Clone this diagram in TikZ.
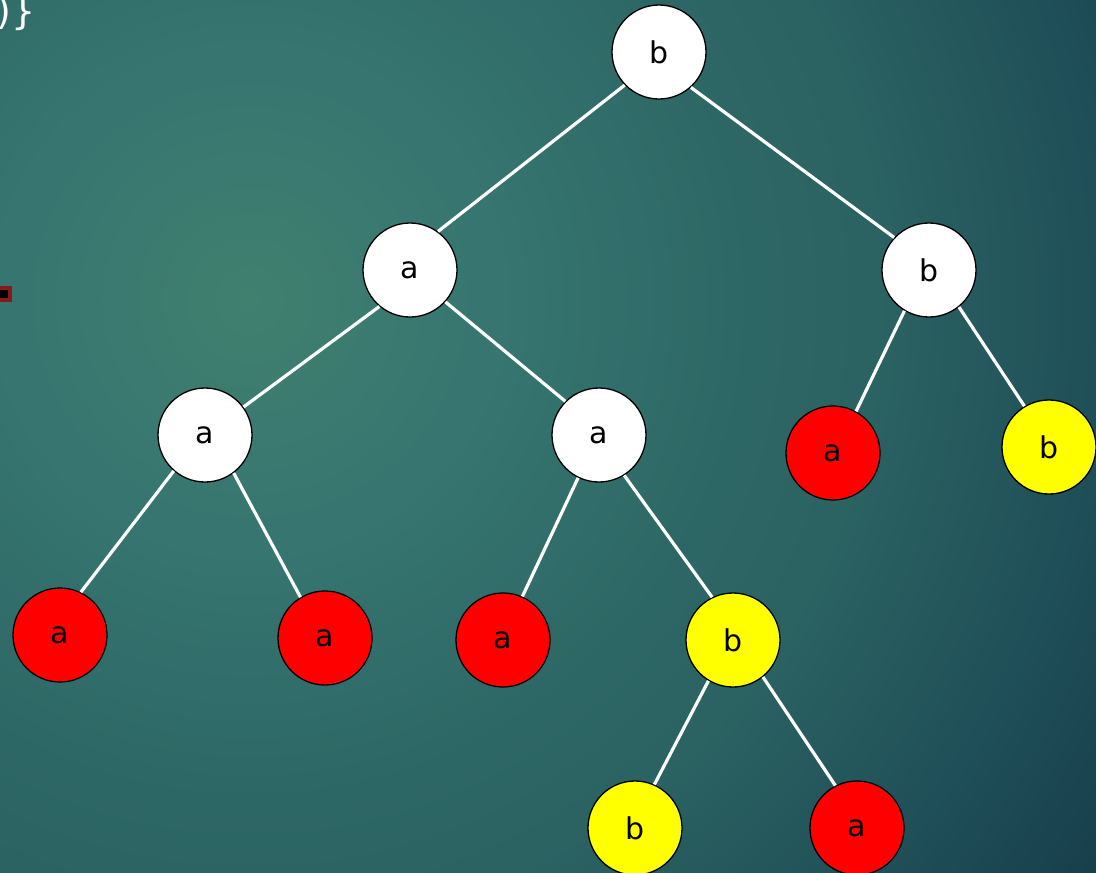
\documentclass[tikz,border=0pt]{standalone}
\usepackage{fontspec}
\setmainfont{DejaVu Sans}
\definecolor{bg0}{HTML}{40806F}
\definecolor{bg1}{HTML}{367570}
\definecolor{bg2}{HTML}{2D6765}
\definecolor{bg3}{HTML}{2B6262}
\definecolor{bg4}{HTML}{1F4F58}
\definecolor{bg5}{HTML}{173E4B}
\definecolor{nred}{HTML}{FF0000}
\definecolor{nyel}{HTML}{FFFF00}
\definecolor{sqred}{HTML}{8A1A1A}
\pgfdeclareradialshading{bgshade}{\pgfpoint{0bp}{0bp}}{color(0bp)=(bg0); color(5.7bp)=(bg1); color(11.4bp)=(bg2); color(14.3bp)=(bg3); color(19.3bp)=(bg4); color(23.4bp)=(bg5); color(50bp)=(bg5)}
\begin{document}
\begin{tikzpicture}[x=1pt,y=-1pt,
  tn/.style={circle,draw=black,line width=1.3pt,minimum size=94pt,inner sep=0pt,
     font=\fontsize{30}{36}\selectfont,text=black},
  wn/.style={tn,fill=white},
  rn/.style={tn,fill=nred},
  yn/.style={tn,fill=nyel},
  edge/.style={draw=white,line width=3.2pt}]
\useasboundingbox (0,0) rectangle (1096,873);
\begin{scope}
\clip (0,0) rectangle (1096,873);
\fill[bg5] (0,0) rectangle (1096,873);
\shade[shading=bgshade] (250,300) circle (1100);
\node[anchor=base east,text=white,font=\fontsize{38}{44}\selectfont,inner sep=0pt] (brace) at (36,24) {)\}};
\fill[sqred] (-4,286) rectangle (12,302);
\fill[black] (-4,290) rectangle (8,298);
\end{scope}
% nodes
\node[wn] (r) at (659,52) {b};
\node[wn] (a1) at (410,270) {a};
\node[wn] (b1) at (929,270) {b};
\node[wn] (a2) at (205,435) {a};
\node[wn] (a3) at (599,435) {a};
\node[rn] (ra1) at (833,453) {a};
\node[yn] (yb1) at (1049,447) {b};
\node[rn] (ra2) at (60,635) {a};
\node[rn] (ra3) at (325,638) {a};
\node[rn] (ra4) at (503,640) {a};
\node[yn] (yb2) at (733,640) {b};
\node[yn] (yb3) at (635,828) {b};
\node[rn] (ra5) at (857,828) {a};
% edges
\path[edge] (r.-136) -- (a1.54);
\path[edge] (r.-48) -- (b1.137);
\path[edge] (a1.-130) -- (a2.36);
\path[edge] (a1.-42) -- (a3.135);
\path[edge] (b1.-121) -- (ra1.61);
\path[edge] (b1.-51) -- (yb1.121);
\path[edge] (a2.-131) -- (ra2.64);
\path[edge] (a2.-53) -- (ra3.121);
\path[edge] (a3.-116) -- (ra4.66);
\path[edge] (a3.-58) -- (yb2.116);
\path[edge] (yb2.-121) -- (yb3.66);
\path[edge] (yb2.-51) -- (ra5.117);
\end{tikzpicture}
\end{document}
